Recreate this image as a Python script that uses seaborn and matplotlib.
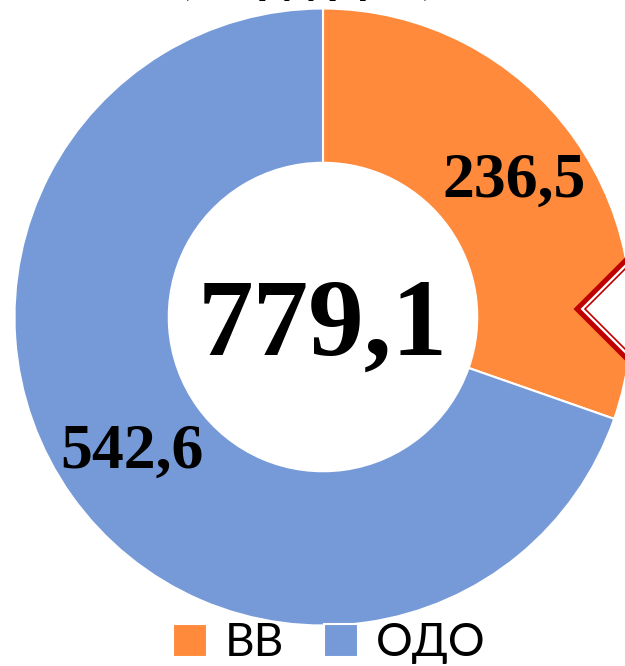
import matplotlib
matplotlib.use('Agg')
import matplotlib.pyplot as plt
import seaborn as sns
from matplotlib.patches import Polygon

# data
categories = ['ВВ', 'ОДО']
values = [236.5, 542.6]
colors = ['#FF8A3B', '#769AD8']
title = '(млрд руб.)'

total = sum(values)

sns.set_style('white')
plt.rcParams['font.family'] = ['Lato', 'Open Sans', 'DejaVu Sans']
plt.rcParams['text.color'] = 'black'

fig = plt.figure(figsize=(6.25, 6.66), dpi=100)
ax = fig.add_axes([0.0232, 0.0608, 0.9872, 0.9264])

wedges, texts, autotexts = ax.pie(
    values, colors=colors, startangle=90, counterclock=False, radius=1,
    wedgeprops=dict(width=0.5, edgecolor='white', linewidth=1.5),
    autopct=lambda p: f'{p * total / 100:.1f}'.replace('.', ','),
    pctdistance=0.76,
    textprops=dict(family='Liberation Serif', weight='bold', fontsize=46, color='black'),
)
ax.set_xlim(-1, 1)
ax.set_ylim(-1, 1)
ax.set_aspect('equal')
ax.axis('off')

# total in the middle
ax.text(0, -0.123, f'{total:.1f}'.replace('.', ','), ha='center', va='baseline',
        family='Liberation Serif', weight='bold', fontsize=80, color='black')

# title mostly cut off at the top
fig.text(0.49, 1 + 7 / 666, title, ha='center', va='baseline', fontsize=35, weight='bold')

# red arrow marker on the right edge
W, H = 625, 666
def fp(x, y):
    return (x / W, 1 - y / H)

outer = [fp(577, 309), fp(660, 226), fp(660, 392)]
inner = [fp(585, 309), fp(668, 226), fp(668, 392)]
fig.patches.append(Polygon(outer, closed=True, transform=fig.transFigure,
                           facecolor='white', edgecolor='#C00000', linewidth=3.6, zorder=5))
fig.patches.append(Polygon(inner, closed=True, transform=fig.transFigure,
                           facecolor='white', edgecolor='#C00000', linewidth=1.2, zorder=6))

fig.legend(wedges, categories, loc='center', bbox_to_anchor=(0.527, 0.034), ncol=2,
           frameon=False, fontsize=33, handlelength=0.74, handleheight=0.74,
           handletextpad=0.39, columnspacing=0.87, borderpad=0)

fig.savefig('out.png', dpi=100)
